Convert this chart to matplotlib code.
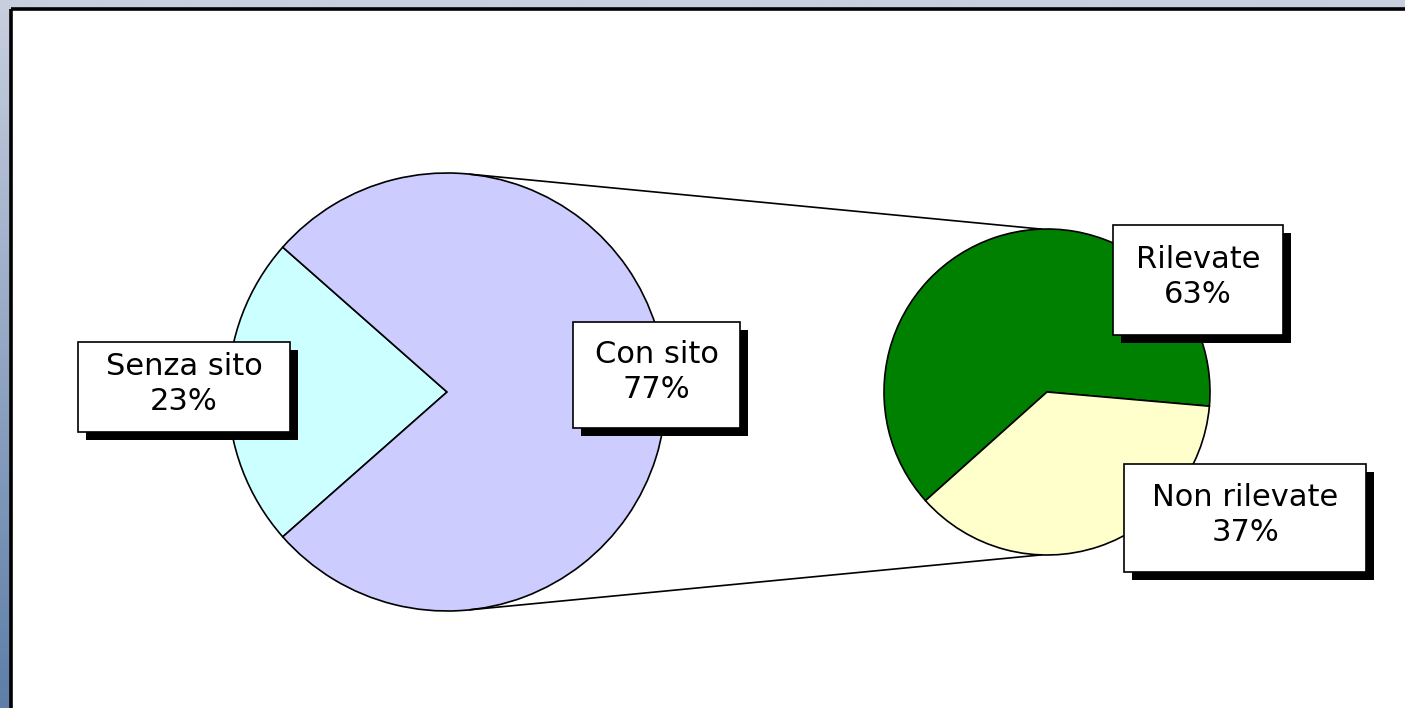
import matplotlib
matplotlib.use("Agg")
import matplotlib.pyplot as plt
import numpy as np
from matplotlib.colors import LinearSegmentedColormap
from matplotlib.patches import Rectangle

W, H = 1405, 708

# data
main_labels = ["Senza sito", "Con sito"]
main_values = [23, 77]
main_colors = ["#CCFFFF", "#CCCCFF"]

sub_labels = ["Rilevate", "Non rilevate"]
sub_values = [63, 37]
sub_colors = ["#008000", "#FFFFCC"]


def img_y(y):
    return H - y


def label_box(ax, x0, y0, x1, y1, text, shadow=8):
    # rectangle given in image pixel coords (top-left origin)
    ax.add_patch(Rectangle((x0 + shadow, img_y(y1) - shadow), x1 - x0, y1 - y0,
                           facecolor="black", edgecolor="none", zorder=5))
    ax.add_patch(Rectangle((x0, img_y(y1)), x1 - x0, y1 - y0,
                           facecolor="white", edgecolor="black", lw=1.2, zorder=6))
    ax.text((x0 + x1) / 2, img_y((y0 + y1) / 2 - 3), text, ha="center", va="center",
            fontsize=22, family="DejaVu Sans", linespacing=1.3, zorder=7)


fig = plt.figure(figsize=(W / 100, H / 100), dpi=100)
ax = fig.add_axes([0, 0, 1, 1])

# blue-grey gradient frame
cmap = LinearSegmentedColormap.from_list("frame", ["#C8CFDF", "#5E7EA8"])
ax.imshow(np.linspace(0, 1, 256)[:, None], cmap=cmap, aspect="auto",
          extent=(0, W, 0, H), zorder=0)
ax.add_patch(Rectangle((11, 0), W - 11, H - 9, facecolor="white",
                       edgecolor="none", zorder=1))
ax.plot([11, 11], [0, H - 9], color="black", lw=2.6, zorder=2, solid_capstyle="butt")
ax.plot([11, W], [H - 9, H - 9], color="black", lw=2.6, zorder=2, solid_capstyle="butt")

big_c, big_r = (447, img_y(392)), 219
small_c, small_r = (1047, img_y(392)), 163

ax.pie(main_values, colors=main_colors, center=big_c, radius=big_r,
       startangle=180 - main_values[0] * 1.8, counterclock=True, frame=True,
       wedgeprops=dict(edgecolor="black", linewidth=1.2, zorder=3))
ax.pie(sub_values, colors=sub_colors, center=small_c, radius=small_r,
       startangle=-5, counterclock=True, frame=True,
       wedgeprops=dict(edgecolor="black", linewidth=1.2, zorder=3))

# connector lines between the two pies
for a_big, a_small in [(84, 92), (-84, -92)]:
    p0 = (big_c[0] + big_r * np.cos(np.radians(a_big)),
          big_c[1] + big_r * np.sin(np.radians(a_big)))
    p1 = (small_c[0] + small_r * np.cos(np.radians(a_small)),
          small_c[1] + small_r * np.sin(np.radians(a_small)))
    ax.plot([p0[0], p1[0]], [p0[1], p1[1]], color="black", lw=1.2, zorder=4)

label_box(ax, 78, 342, 290, 432, f"{main_labels[0]}\n{main_values[0]}%")
label_box(ax, 573, 322, 740, 428, f"{main_labels[1]}\n{main_values[1]}%")
label_box(ax, 1113, 225, 1283, 335, f"{sub_labels[0]}\n{sub_values[0]}%")
label_box(ax, 1124, 464, 1366, 572, f"{sub_labels[1]}\n{sub_values[1]}%")

ax.set_xlim(0, W)
ax.set_ylim(0, H)
ax.axis("off")

fig.savefig("out.png", dpi=100)
